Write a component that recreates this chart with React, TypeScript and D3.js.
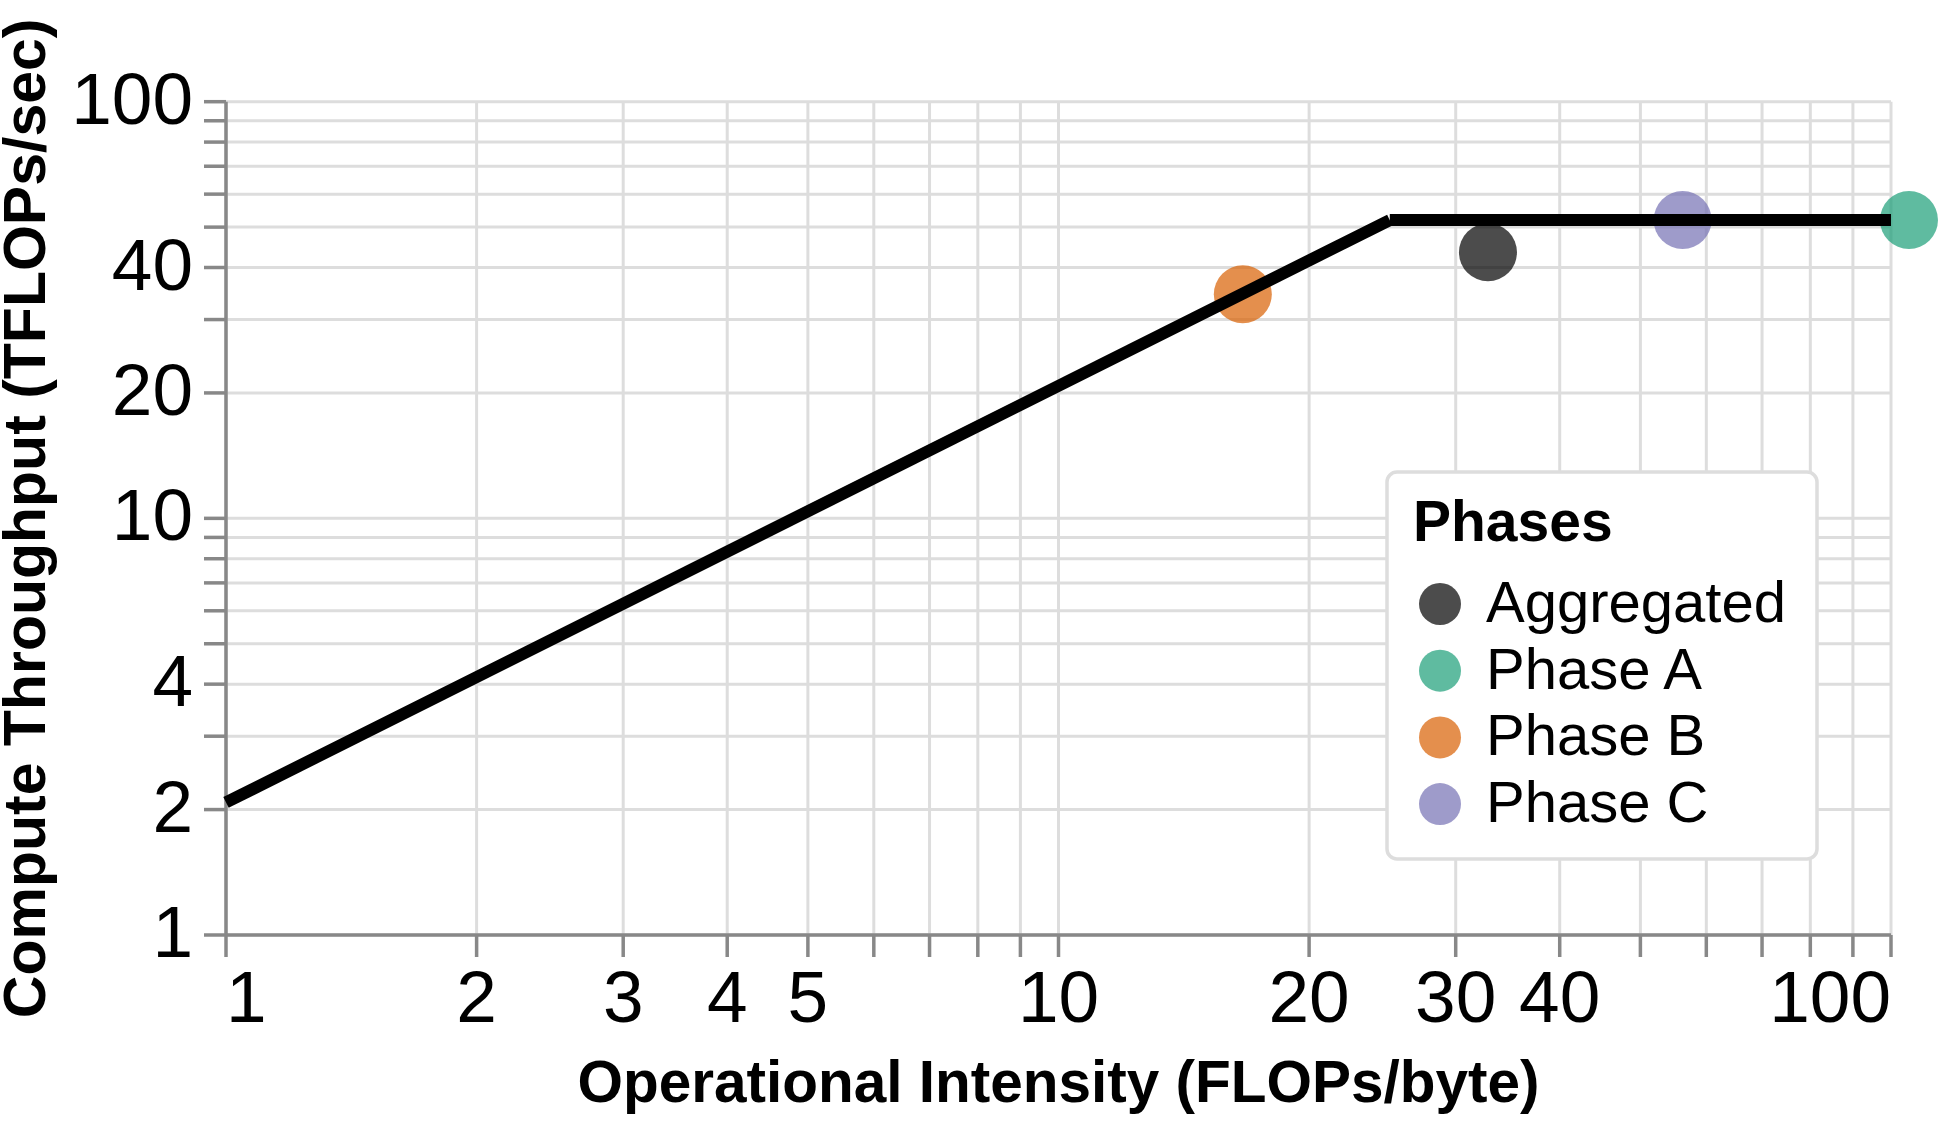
import React from 'react';
import * as d3 from 'd3';

// ticks on the log axes
const xTickValues = [1, 2, 3, 4, 5, 6, 7, 8, 9, 10, 20, 30, 40, 50, 60, 70, 80, 90, 100];
const xLabelValues = [1, 2, 3, 4, 5, 10, 20, 30, 40, 100];
const yTickValues = [1, 2, 3, 4, 5, 6, 7, 8, 9, 10, 20, 30, 40, 50, 60, 70, 80, 90, 100];
const yLabelValues = [1, 2, 4, 10, 20, 40, 100];

// roofline: memory bound slope then compute ceiling
const rooflineX = [1, 25, 100];
const rooflineY = [2.08, 52, 52];

// measured phases
const phaseNames = ['Phase A', 'Phase B', 'Phase C', 'Aggregated'];
const phaseIntensity = [105.1, 16.65, 56.2, 32.8];
const phaseThroughput = [52, 34.5, 52, 43.5];

const legendOrder = ['Aggregated', 'Phase A', 'Phase B', 'Phase C'];
const legendColors = ['#000000', '#1b9e77', '#d95f02', '#7570b3'];

const W = 1960;
const H = 1133;
const FONT = '"Liberation Sans", Arial, Helvetica, sans-serif';
const AXIS = '#888888';
const GRID = '#dddddd';

export default function App() {
  const x = d3.scaleLog().domain([1, 100]).range([226, 1891]);
  const y = d3.scaleLog().domain([1, 100]).range([935, 101.7]);
  const color = d3.scaleOrdinal<string, string>().domain(legendOrder).range(legendColors);

  const roofPts: [number, number][] = rooflineX.map((v, i) => [v, rooflineY[i]]);
  const segLine = d3
    .line<[number, number]>()
    .x(d => x(d[0]))
    .y(d => y(d[1]));

  const points = phaseNames.map((n, i) => ({ name: n, xv: phaseIntensity[i], yv: phaseThroughput[i] }));

  const [x0, x1] = x.range();
  const [y0, y1] = y.range();
  const tick = 22;

  return (
    <svg
      width={W}
      height={H}
      style={{ position: 'absolute', left: 0, top: 0, background: '#fff' }}
      fontFamily={FONT}
    >
      <rect width={W} height={H} fill="#fff" />

      {/* grid */}
      <g stroke={GRID} strokeWidth={3}>
        {xTickValues.map(v => (
          <line key={'gx' + v} x1={x(v)} x2={x(v)} y1={y1} y2={y0} />
        ))}
        {yTickValues.map(v => (
          <line key={'gy' + v} x1={x0} x2={x1} y1={y(v)} y2={y(v)} />
        ))}
      </g>

      {/* axes */}
      <g stroke={AXIS} strokeWidth={3.5}>
        <line x1={x0} x2={x1} y1={y0} y2={y0} />
        <line x1={x0} x2={x0} y1={y1} y2={y0} />
        {xTickValues.map(v => (
          <line key={'tx' + v} x1={x(v)} x2={x(v)} y1={y0} y2={y0 + tick} />
        ))}
        {yTickValues.map(v => (
          <line key={'ty' + v} x1={x0 - tick} x2={x0} y1={y(v)} y2={y(v)} />
        ))}
      </g>

      <g fontSize={73} fill="#000">
        {xLabelValues.map((v, i) => (
          <text
            key={'lx' + v}
            x={x(v)}
            y={1022}
            textAnchor={i === 0 ? 'start' : i === xLabelValues.length - 1 ? 'end' : 'middle'}
          >
            {v}
          </text>
        ))}
        {yLabelValues.map(v => (
          <text key={'ly' + v} x={193} y={y(v) + 22} textAnchor="end">
            {v}
          </text>
        ))}
      </g>

      {/* axis titles */}
      <text x={(x0 + x1) / 2} y={1102} textAnchor="middle" fontSize={58.5} fontWeight="bold">
        Operational Intensity (FLOPs/byte)
      </text>
      <text
        transform={`translate(45,${(y0 + y1) / 2}) rotate(-90)`}
        textAnchor="middle"
        fontSize={59}
        fontWeight="bold"
      >
        Compute Throughput (TFLOPs/sec)
      </text>

      {/* points */}
      <g>
        {points.map(p => (
          <circle key={p.name} cx={x(p.xv)} cy={y(p.yv)} r={29} fill={color(p.name)} fillOpacity={0.7} />
        ))}
      </g>

      {/* roofline, two separate segments */}
      <g fill="none" stroke="#000" strokeWidth={12} strokeLinecap="butt">
        <path d={segLine([roofPts[0], roofPts[1]]) || ''} />
        <path d={segLine([roofPts[1], roofPts[2]]) || ''} />
      </g>

      {/* legend */}
      <g>
        <rect x={1387} y={472} width={430} height={387} rx={10} fill="#fff" stroke={GRID} strokeWidth={3.5} />
        <text x={1413} y={541} fontSize={57} fontWeight="bold">
          Phases
        </text>
        {legendOrder.map((n, i) => (
          <g key={n} transform={`translate(0,${i * 66.7})`}>
            <circle cx={1440} cy={604} r={21} fill={color(n)} fillOpacity={0.7} />
            <text x={1486} y={622} fontSize={58}>
              {n}
            </text>
          </g>
        ))}
      </g>
    </svg>
  );
}
